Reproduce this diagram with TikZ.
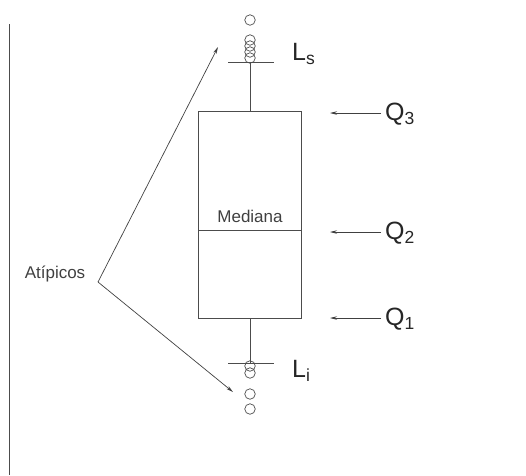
\documentclass[tikz,border=0pt]{standalone}
\usepackage{fontspec}
\setmainfont{Liberation Sans}
\usetikzlibrary{arrows.meta}

\begin{document}
\begin{tikzpicture}[x=1pt,y=-1pt,
  linea/.style={draw=black!70,line width=0.9pt},
  atipico/.style={circle,draw=black!70,line width=0.7pt,inner sep=0pt,minimum size=10.5pt},
  flecha/.style={draw=black!75,line width=0.7pt,-{Stealth[length=7pt,width=3.5pt]}},
  etiqueta/.style={text=black!85,font=\fontsize{25}{28}\selectfont,inner sep=0pt,anchor=west},
  texto/.style={text=black!75,font=\fontsize{17}{20}\selectfont,inner sep=0pt}]
  \useasboundingbox (0,0) rectangle (526,475);
  % eje
  \coordinate (ejeA) at (9,24);
  \coordinate (ejeB) at (9,475);
  \draw[linea] (ejeA) -- (ejeB);
  % caja
  \node[linea,minimum width=103pt,minimum height=207pt,inner sep=0pt] (caja) at (250,214.5) {};
  \coordinate (medW) at (198.5,230);
  \coordinate (medE) at (301.5,230);
  \draw[linea] (medW) -- (medE);
  \node[texto] (mediana) at (250,216) {Mediana};
  % bigotes
  \coordinate (ls) at (250,62);
  \coordinate (li) at (250,363);
  \draw[linea] (caja.north) -- (ls);
  \draw[linea] (caja.south) -- (li);
  \coordinate (lsW) at (228,62);
  \coordinate (lsE) at (274,62);
  \coordinate (liW) at (228,363);
  \coordinate (liE) at (274,363);
  \draw[linea] (lsW) -- (lsE);
  \draw[linea] (liW) -- (liE);
  % atipicos
  \node[atipico] (s0) at (250,20) {};
  \foreach \y [count=\i] in {40,46,52,58}
    \node[atipico,minimum height=9pt] (s\i) at (250,\y) {};
  \foreach \y [count=\i] in {366,373,394,409}
    \node[atipico] (i\i) at (250,\y) {};
  % etiquetas
  \node[etiqueta] (Ls) at (292,54) {L\textsubscript{s}};
  \node[etiqueta] (Li) at (292,371) {L\textsubscript{i}};
  \node[etiqueta] (Q3) at (385,114) {Q\textsubscript{3}};
  \node[etiqueta] (Q2) at (385,233) {Q\textsubscript{2}};
  \node[etiqueta] (Q1) at (385,319) {Q\textsubscript{1}};
  \coordinate (f3) at (330,113);
  \coordinate (f2) at (330,232);
  \coordinate (f1) at (330,318);
  \draw[flecha,shorten <=4pt] (Q3.west |- f3) -- (f3);
  \draw[flecha,shorten <=4pt] (Q2.west |- f2) -- (f2);
  \draw[flecha,shorten <=4pt] (Q1.west |- f1) -- (f1);
  % flechas a los atipicos
  \node[texto] (atip) at (55,274) {Atípicos};
  \coordinate (vertice) at (98,282);
  \coordinate (puntaS) at (218,47);
  \coordinate (puntaI) at (233,392);
  \draw[flecha] (vertice) -- (puntaS);
  \draw[flecha] (vertice) -- (puntaI);
\end{tikzpicture}
\end{document}
